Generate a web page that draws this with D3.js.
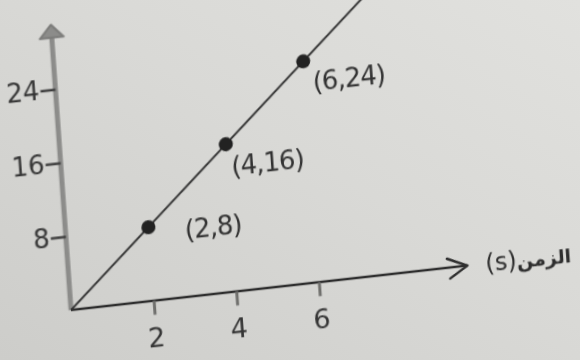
<!DOCTYPE html>
<html>
<head>
<meta charset="utf-8">
<script src="https://cdn.jsdelivr.net/npm/d3@7"></script>
<style>
  html, body { margin: 0; padding: 0; }
  svg { display: block; }
</style>
</head>
<body>
<svg width="580" height="360"></svg>
<script>
// values
const xTicks = [2, 4, 6];
const yTicks = [8, 16, 24];
const pointX = [2, 4, 6];
const pointY = [8, 16, 24];
const pointLabels = ["(2,8)", "(4,16)", "(6,24)"];
const lineEnds = [[0, 0], [7.6, 30.4]];
const xUnit = "(s)";
const xName = "الزمن";

const svgWidth = 580, svgHeight = 360;
const svg = d3.select("svg").attr("width", svgWidth).attr("height", svgHeight);

// paper background
const defs = svg.append("defs");
const grad = defs.append("linearGradient")
  .attr("id", "paper").attr("x1", "0").attr("y1", "1").attr("x2", "1").attr("y2", "0");
grad.append("stop").attr("offset", "0").attr("stop-color", "#cdcdca");
grad.append("stop").attr("offset", "0.55").attr("stop-color", "#d9d9d6");
grad.append("stop").attr("offset", "1").attr("stop-color", "#e1e1de");
defs.append("filter").attr("id", "soft")
  .append("feGaussianBlur").attr("stdDeviation", 0.6);

svg.append("rect").attr("width", svgWidth).attr("height", svgHeight).attr("fill", "url(#paper)");

// the photo is taken at a slant, so the plot sits in a sheared frame
const g = svg.append("g")
  .attr("transform", "matrix(1,-0.1122,0.0707,1,71,310)")
  .attr("filter", "url(#soft)");

const x = d3.scaleLinear().domain([0, 9.6]).range([0, 396.5]);
const y = d3.scaleLinear().domain([0, 31]).range([0, -285.2]);

// y axis (grey, thick) with arrow
g.append("line")
  .attr("x1", x(0)).attr("y1", y(0))
  .attr("x2", x(0)).attr("y2", y(30))
  .attr("stroke", "#8c8c8a").attr("stroke-width", 5);
g.append("path")
  .attr("d", `M${x(0)},${y(31)} L${x(0) - 12},${y(31) + 13} L${x(0) + 12},${y(31) + 13} Z`)
  .attr("fill", "#8c8c8a").attr("stroke", "#7a7a78").attr("stroke-width", 2)
  .attr("stroke-linejoin", "round");

const yAxis = g.append("g")
  .call(d3.axisLeft(y).tickValues(yTicks).tickSize(15).tickPadding(1));
yAxis.select(".domain").remove();
yAxis.selectAll(".tick line").attr("stroke", "#3a3a3a").attr("stroke-width", 2.5);
yAxis.selectAll(".tick text")
  .attr("fill", "#353535")
  .style("font-family", "'DejaVu Sans', sans-serif")
  .style("font-size", "26px");

// x axis (dark) with open arrow
g.append("line")
  .attr("x1", x(0)).attr("y1", y(0))
  .attr("x2", x(9.6)).attr("y2", y(0))
  .attr("stroke", "#2f2f2f").attr("stroke-width", 2.5);
g.append("path")
  .attr("d", `M${x(9.6) - 20},${y(0) - 9} L${x(9.6)},${y(0)} L${x(9.6) - 18},${y(0) + 11}`)
  .attr("fill", "none").attr("stroke", "#2f2f2f").attr("stroke-width", 2.5)
  .attr("stroke-linecap", "round").attr("stroke-linejoin", "round");

const xAxis = g.append("g")
  .call(d3.axisBottom(x).tickValues(xTicks).tickSize(14).tickPadding(13));
xAxis.select(".domain").remove();
xAxis.selectAll(".tick line").attr("stroke", "#6f6f6d").attr("stroke-width", 3);
xAxis.selectAll(".tick text")
  .attr("fill", "#353535")
  .style("font-family", "'DejaVu Sans', sans-serif")
  .style("font-size", "27px");

const xTitle = g.append("text")
  .attr("x", x(9.6) + 18)
  .attr("y", y(0) + 8)
  .attr("fill", "#2e2e2e")
  .style("font-family", "'DejaVu Sans', sans-serif");
xTitle.append("tspan").style("font-size", "24px").text(xUnit);
xTitle.append("tspan").style("font-size", "19px").style("font-weight", "bold").text(xName);

// the straight line through the origin
const line = d3.line()
  .x((d) => x(d[0]))
  .y((d) => y(d[1]));
g.append("path")
  .datum(lineEnds)
  .attr("fill", "none")
  .attr("stroke", "#333")
  .attr("stroke-width", 2)
  .attr("d", line);

const points = pointX.map((v, i) => ({ x: v, y: pointY[i], label: pointLabels[i] }));
const labelOffsets = [[36, 16], [4, 32], [8, 31]];

g.selectAll("circle.pt")
  .data(points)
  .enter()
  .append("circle")
  .attr("class", "pt")
  .attr("cx", (d) => x(d.x))
  .attr("cy", (d) => y(d.y))
  .attr("r", 7)
  .attr("fill", "#222");

g.selectAll("text.pt-label")
  .data(points)
  .enter()
  .append("text")
  .attr("class", "pt-label")
  .attr("x", (d, i) => x(d.x) + labelOffsets[i][0])
  .attr("y", (d, i) => y(d.y) + labelOffsets[i][1])
  .attr("fill", "#333")
  .style("font-family", "'DejaVu Sans', sans-serif")
  .style("font-size", "26px")
  .style("letter-spacing", "-1px")
  .text((d) => d.label);
</script>
</body>
</html>
